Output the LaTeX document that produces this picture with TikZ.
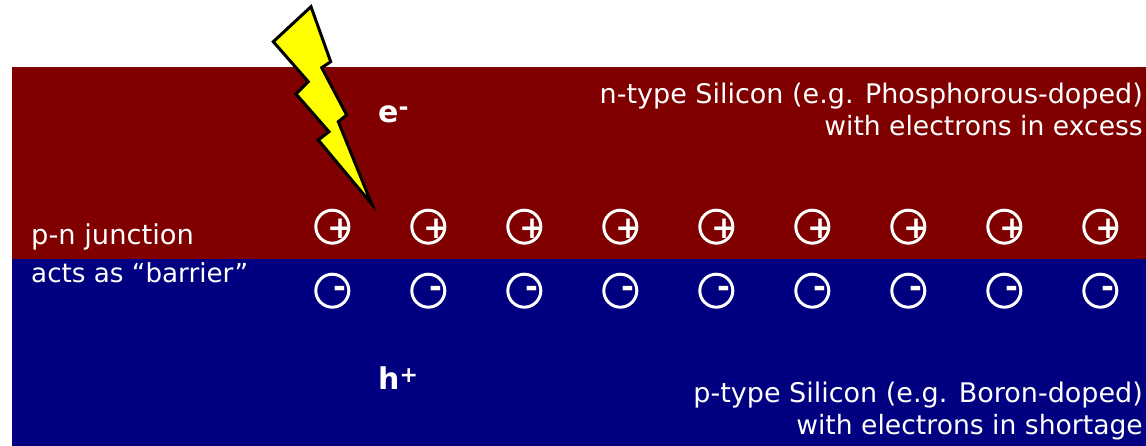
\documentclass[tikz,border=0pt]{standalone}
\usepackage{fontspec}
\setmainfont{DejaVu Sans}
\definecolor{nred}{RGB}{128,0,0}
\definecolor{pblue}{RGB}{0,0,128}
\definecolor{boltyellow}{RGB}{255,255,0}
\newcommand{\lineb}{\fontsize{26.6}{32}\selectfont}
\tikzset{
  lbl/.style={inner sep=0pt,text=white,font=\fontsize{27}{32}\selectfont},
  lblr/.style={lbl,anchor=east,align=right},
  lbll/.style={lbl,anchor=base west},
  carrier/.style={inner sep=0pt,text=white,anchor=base west,font=\fontsize{30}{36}\bfseries\selectfont},
  ion/.style={circle,draw=white,line width=3pt,minimum size=33pt,inner sep=0pt},
  sign/.style={inner sep=0pt,text=white,font=\fontsize{31}{34}\bfseries\selectfont},
  boltshape/.style={fill=boltyellow,draw=black,line width=3pt,line join=miter}
}
\begin{document}
\begin{tikzpicture}[x=1pt,y=-1pt]
\useasboundingbox (0,0) rectangle (1146,446);
\fill[nred] (12,67) rectangle (1146,259);
\fill[pblue] (12,259) rectangle (1146,446);
\draw[boltshape] (311,6.7) -- (330.7,61.7) -- (321.7,67.7) -- (346.7,115) -- (338.3,121.7) -- (371.7,204) -- (318.3,140) -- (329,131.7) -- (296,94) -- (308.3,81.7) -- (273.3,41.7) -- cycle;
\node[lblr] (ntype) at (1143,109) {n-type Silicon (e.g. Phosphorous-doped)\\{\lineb with electrons in excess}};
\node[lblr] (ptype) at (1143,411) {p-type Silicon (e.g. Boron-doped)\\{\lineb with electrons in shortage}};
\node[lbll] (junc) at (31,245) {\fontsize{27.3}{32}\selectfont p-n junction};
\node[lbll] (barr) at (31,283) {\fontsize{26.2}{32}\selectfont acts as “barrier”};
\node[carrier] (elec) at (378,123) {e\raisebox{7pt}{\fontsize{24}{24}\selectfont -}};
\node[carrier] (hole) at (378,389) {h\raisebox{7pt}{\fontsize{22}{24}\selectfont +}};
\foreach \i in {0,...,8}{
  \pgfmathsetmacro{\cx}{332.3+96*\i}
  \node[ion] (pos\i) at (\cx,226.7) {};
  \node[sign] (plus\i) at (\cx+8,228.3) {+};
  \node[ion] (neg\i) at (\cx,290.7) {};
  \node[sign] (minus\i) at (\cx+8,292) {-};
}
\end{tikzpicture}
\end{document}
